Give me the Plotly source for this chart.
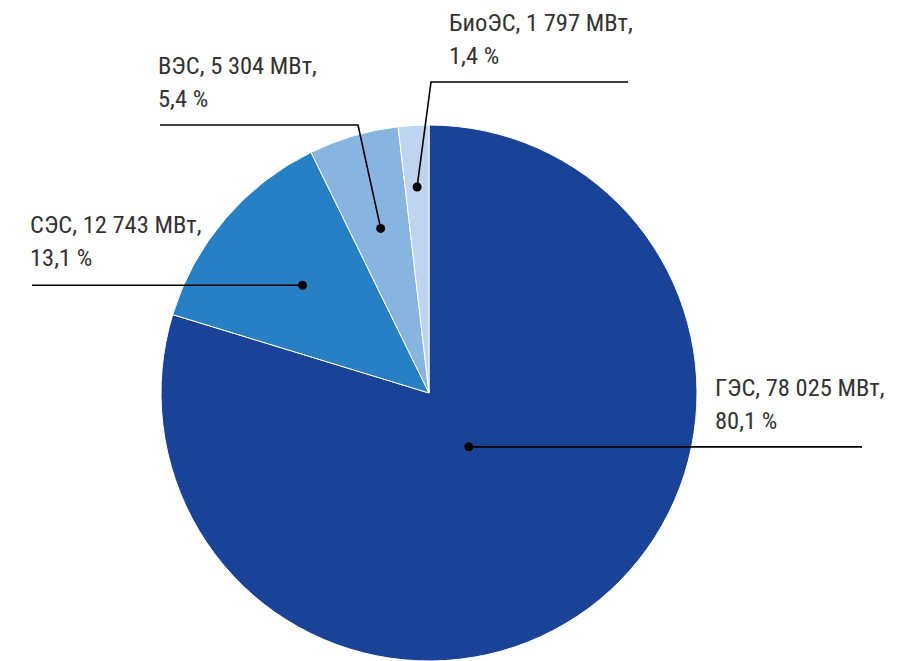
import math
import plotly.graph_objects as go

# Installed capacity by plant type
categories = ["ГЭС", "СЭС", "ВЭС", "БиоЭС"]
capacity_mw = [78025, 12743, 5304, 1797]
capacity_text = ["78 025", "12 743", "5 304", "1 797"]
share_text = ["80,1", "13,1", "5,4", "1,4"]
colors = ["#1a4296", "#2780c3", "#88b4e0", "#bed4ef"]

W, H = 902, 661
CX, R = 429, 268           # pie centre x and radius, px
CY = H - R                 # pie sits on the bottom edge of the figure

FONT = dict(family="Roboto Condensed, Liberation Sans Narrow, DejaVu Sans Condensed, sans-serif",
            size=24.5, color="#333333")
LINE_GAP = 33              # distance between the two label lines, px

fig = go.Figure(go.Pie(
    labels=categories,
    values=capacity_mw,
    sort=False,
    direction="clockwise",
    rotation=0,
    marker=dict(colors=colors, line=dict(color="#ffffff", width=1)),
    textinfo="none",
    hoverinfo="label+value",
    domain=dict(x=[(CX - R) / W, (CX + R) / W], y=[0, 2 * R / H]),
    showlegend=False,
))


def px(x, y):
    return x / W, 1 - y / H


# Mid-angle of each slice (clockwise from 12 o'clock), from the values
total = sum(capacity_mw)
mid_angles = []
acc = 0
for v in capacity_mw:
    mid_angles.append((acc + v / 2) / total * 2 * math.pi)
    acc += v

# radial position of the leader dot inside each slice (fraction of radius)
dot_r = [0.25, 0.62, 0.64, 0.77]
dots = []
for a, f in zip(mid_angles, dot_r):
    dots.append((CX + f * R * math.sin(a), CY - f * R * math.cos(a)))

# leader paths: list of points (px), ending at the dot
paths = [
    [(862, dots[0][1]), dots[0]],
    [(32, dots[1][1]), dots[1]],
    [(160, 125), (358, 125), dots[2]],
    [(628, 82), (431, 82), dots[3]],
]
# label anchor (left, top) in px
label_pos = [(713, 371), (28, 208), (156, 49), (447, 6)]

shapes = []
for pts in paths:
    path = "M " + " L ".join(f"{px(x, y)[0]:.5f},{px(x, y)[1]:.5f}" for x, y in pts)
    shapes.append(dict(type="path", path=path, xref="paper", yref="paper",
                       line=dict(color="#000000", width=1.6)))
for dx, dy in dots:
    x0, y0 = px(dx - 4.5, dy - 4.5)
    x1, y1 = px(dx + 4.5, dy + 4.5)
    shapes.append(dict(type="circle", xref="paper", yref="paper",
                       x0=x0, x1=x1, y0=y1, y1=y0,
                       fillcolor="#000000", line=dict(width=0)))

annotations = []
for name, cap, share, (lx, ly) in zip(categories, capacity_text, share_text, label_pos):
    for i, line in enumerate([f"{name}, {cap} МВт,", f"{share} %"]):
        x, y = px(lx, ly + i * LINE_GAP)
        annotations.append(dict(
            text=line,
            x=x, y=y, xref="paper", yref="paper",
            xanchor="left", yanchor="top", align="left",
            showarrow=False, font=FONT,
        ))

fig.update_layout(
    width=W, height=H,
    margin=dict(l=0, r=0, t=0, b=0),
    paper_bgcolor="#ffffff",
    plot_bgcolor="#ffffff",
    shapes=shapes,
    annotations=annotations,
)

fig.write_html("out.html")
